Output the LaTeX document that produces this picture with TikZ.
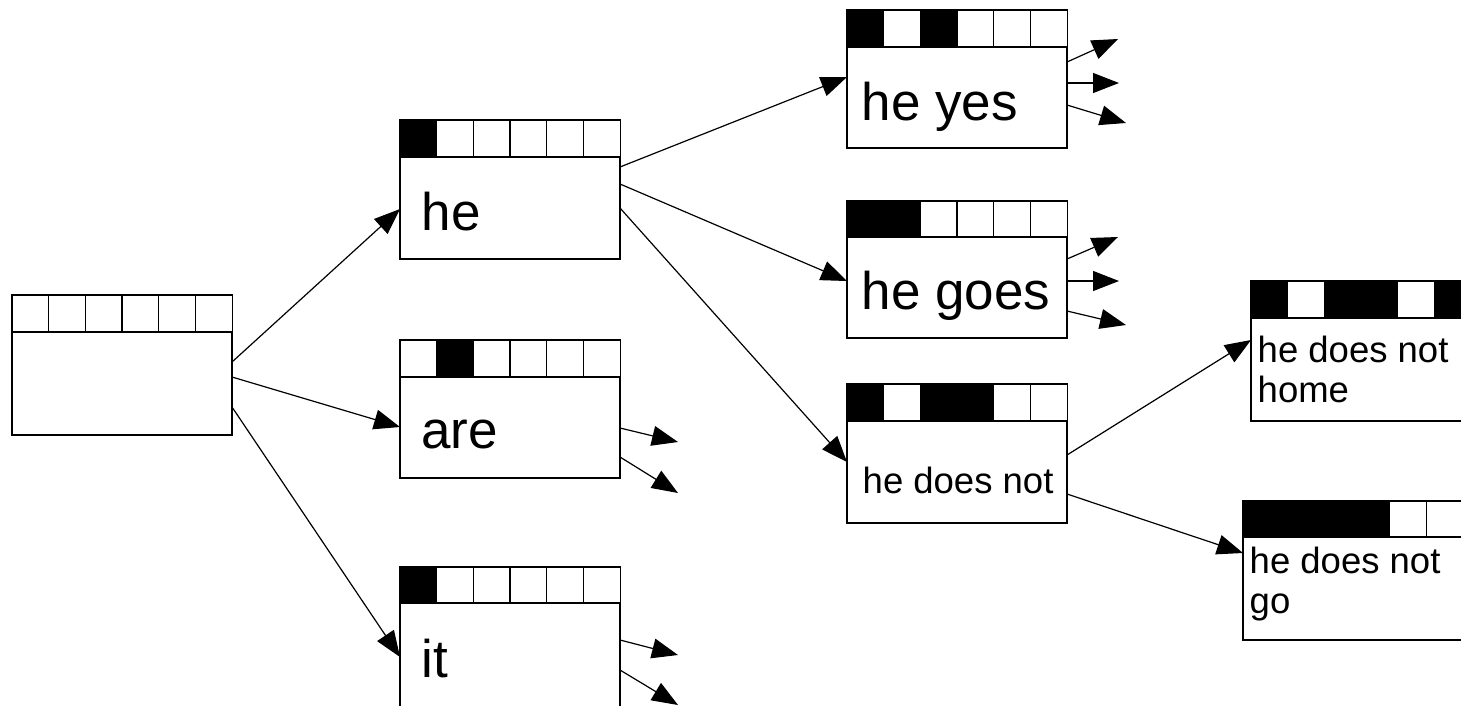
\documentclass[tikz,border=0pt]{standalone}
\usepackage{fontspec}
\setmainfont{Liberation Sans}
\usetikzlibrary{arrows.meta}
\definecolor{cellc0}{gray}{1}
\definecolor{cellc1}{gray}{0}
\tikzset{
  body/.style={draw, line width=1.3pt, fill=white, minimum width=220pt, anchor=north west, inner sep=0pt, outer sep=0pt},
  big/.style={anchor=base west, inner sep=0pt, font=\fontsize{53}{60}\selectfont},
  small/.style={anchor=base west, inner sep=0pt, align=left, font=\fontsize{36.5}{40}\selectfont},
  conn/.style={line width=1.2pt, -{Triangle[length=26pt,width=20pt]}},
}
\newcommand{\cellrow}[3]{%
  \foreach \c [count=\i from 0] in {#3} {
    \draw[line width=1.3pt, fill=cellc\c] ({#1+\i*36.7},#2) rectangle ++(36.7,37);
  }}
\begin{document}
\begin{tikzpicture}[x=1pt,y=-1pt]
\useasboundingbox (0,0) rectangle (1461,705);
\clip (0,0) rectangle (1461,705);
% root
\cellrow{12}{295}{0,0,0,0,0,0}
\node[body, minimum height=103pt] (b0) at (12,332) {};
% first level
\cellrow{400}{120}{1,0,0,0,0,0}
\node[body, minimum height=102pt] (he) at (400,157) {};
\node[big] (the) at (421.5,230) {he};
\cellrow{400}{340}{0,1,0,0,0,0}
\node[body, minimum height=101pt] (are) at (400,377) {};
\node[big] (tare) at (421,448) {are};
\cellrow{400}{567}{1,0,0,0,0,0}
\node[body, minimum height=110pt] (it) at (400,603) {};
\node[big] (tit) at (421.5,677) {it};
% second level
\cellrow{847}{10}{1,0,1,0,0,0}
\node[body, minimum height=101pt] (yes) at (847,47) {};
\node[big] (tyes) at (861.5,120) {he yes};
\cellrow{847}{201}{1,1,0,0,0,0}
\node[body, minimum height=101pt] (goes) at (847,237) {};
\node[big] (tgoes) at (861.5,309) {he goes};
\cellrow{847}{384}{1,0,1,1,0,0}
\node[body, minimum height=102pt] (not) at (847,421) {};
\node[small] (tnot) at (862.5,493) {he does not};
% third level
\cellrow{1251}{281}{1,0,1,1,0,1}
\node[body, minimum height=103pt] (home) at (1251,318) {};
\node[small] (thome) at (1257.5,362) {he does not};
\node[small] (thome2) at (1257.5,402) {home};
\cellrow{1243}{501}{1,1,1,1,0,0}
\node[body, minimum height=103pt] (go) at (1243,537) {};
\node[small] (tgo) at (1249.5,573) {he does not};
\node[small] (tgo2) at (1249.5,613) {go};
% connectors
\draw[conn] (b0.east |- 0,362) -- (he.west |- 0,209);
\draw[conn] (b0.east |- 0,377) -- (are.west |- 0,427);
\draw[conn] (b0.east |- 0,407) -- (it.west |- 0,657);
\draw[conn] (he.east |- 0,167) -- (yes.west |- 0,77);
\draw[conn] (he.east |- 0,184) -- (goes.west |- 0,281);
\draw[conn] (he.east |- 0,208) -- (not.west |- 0,462);
\draw[conn] (not.east |- 0,455) -- (home.west |- 0,340);
\draw[conn] (not.east |- 0,494) -- (go.west |- 0,553);
% loose arrows
\coordinate (ya) at (1118,39);
\coordinate (yb) at (1119,83);
\coordinate (yc) at (1126,123);
\draw[conn] (yes.east |- 0,62) -- (ya);
\draw[conn] (yes.east |- 0,83) -- (yb);
\draw[conn] (yes.east |- 0,105) -- (yc);
\coordinate (ga) at (1118,237);
\coordinate (gb) at (1119,281);
\coordinate (gc) at (1126,325);
\draw[conn] (goes.east |- 0,259) -- (ga);
\draw[conn] (goes.east |- 0,281) -- (gb);
\draw[conn] (goes.east |- 0,311) -- (gc);
\coordinate (aa) at (678,442);
\coordinate (ab) at (678,493);
\draw[conn] (are.east |- 0,428) -- (aa);
\draw[conn] (are.east |- 0,457) -- (ab);
\coordinate (ia) at (678,655);
\coordinate (ib) at (678,705);
\draw[conn] (it.east |- 0,640) -- (ia);
\draw[conn] (it.east |- 0,670) -- (ib);
\end{tikzpicture}
\end{document}
